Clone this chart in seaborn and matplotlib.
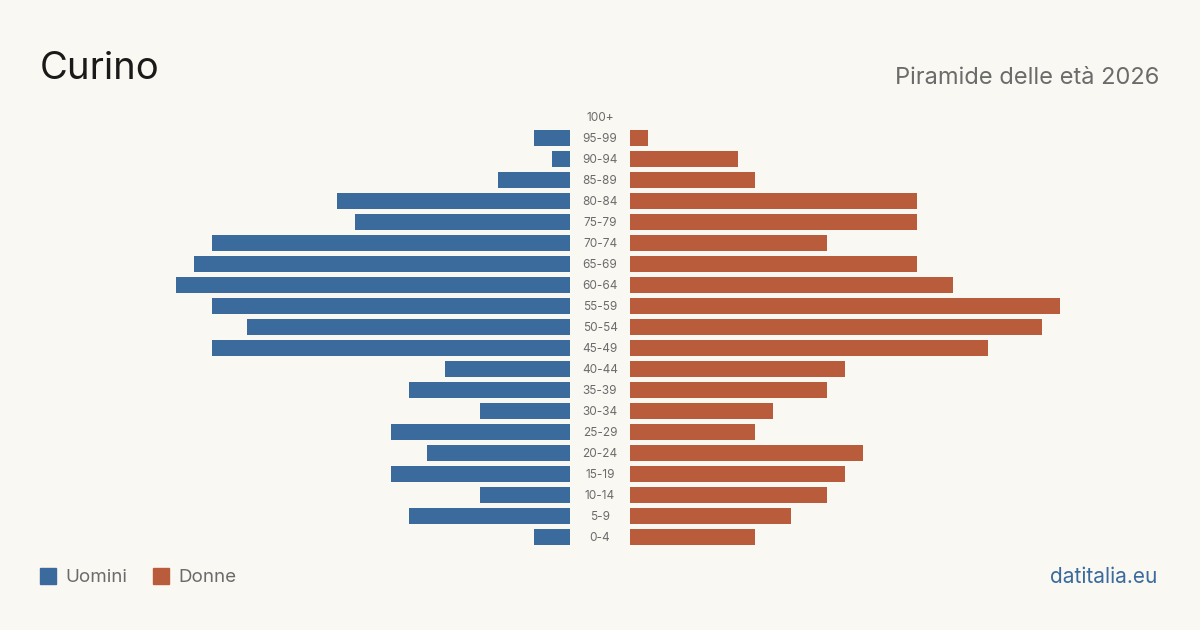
import matplotlib
matplotlib.use("Agg")
import matplotlib.pyplot as plt
import matplotlib.transforms as mtransforms
from matplotlib.patches import Rectangle
import pandas as pd
import seaborn as sns

# age classes, bottom to top
ages = ['0-4', '5-9', '10-14', '15-19', '20-24', '25-29', '30-34', '35-39',
        '40-44', '45-49', '50-54', '55-59', '60-64', '65-69', '70-74',
        '75-79', '80-84', '85-89', '90-94', '95-99', '100+']
uomini = [2, 9, 5, 10, 8, 10, 5, 9, 7, 20, 18, 20, 22, 21, 20, 12, 13, 4, 1, 2, 0]
donne = [7, 9, 11, 12, 13, 7, 8, 11, 12, 20, 23, 24, 18, 16, 11, 16, 16, 7, 6, 1, 0]

title = 'Curino'
subtitle = 'Piramide delle età 2026'
source = 'datitalia.eu'

BLUE = '#3a6b9c'
ORANGE = '#b95c3b'
BG = '#faf8f3'

df = pd.DataFrame({'age': ages, 'Uomini': uomini, 'Donne': donne})
order = ages[::-1]

sns.set_theme(style='white')
plt.rcParams['font.family'] = ['Inter', 'DejaVu Sans']

fig = plt.figure(figsize=(12, 6.3), dpi=100)
fig.patch.set_facecolor(BG)

W, H = 1200, 630
y0 = 547.5
hgt = 441
xmax = 530 / 17.92

ax_l = fig.add_axes([40 / W, 1 - y0 / H, 530 / W, hgt / H])
ax_r = fig.add_axes([630 / W, 1 - y0 / H, 530 / W, hgt / H])

sns.barplot(data=df, x='Uomini', y='age', order=order, color=BLUE,
            saturation=1, width=0.8, linewidth=0, ax=ax_l)
sns.barplot(data=df, x='Donne', y='age', order=order, color=ORANGE,
            saturation=1, width=0.8, linewidth=0, ax=ax_r)

for ax in (ax_l, ax_r):
    ax.set_facecolor(BG)
    ax.set_xlim(0, xmax)
    ax.set_ylim(len(ages) - 0.5, -0.5)
    ax.set_xlabel('')
    ax.set_ylabel('')
    ax.set_xticks([])
    ax.set_yticks([])
    for s in ax.spines.values():
        s.set_visible(False)
ax_l.invert_xaxis()

# age labels in the gap
trans = mtransforms.blended_transform_factory(fig.transFigure, ax_l.transData)
for i, a in enumerate(order):
    ax_l.text(600 / W, i + 0.05, a, transform=trans, ha='center', va='center',
              fontsize=8.5, color='#6b6b6b')

fig.text(40 / W, 1 - 69 / H, title, fontsize=27.5, color='#1a1a1a',
         ha='left', va='center')
fig.text(1159 / W, 1 - 78 / H, subtitle, fontsize=17, color='#6b6b6b',
         ha='right', va='center')
fig.text(1157 / W, 1 - 577 / H, source, fontsize=15, color=BLUE,
         ha='right', va='center')

# legend
for x, lab, col in [(40, 'Uomini', BLUE), (153, 'Donne', ORANGE)]:
    fig.patches.append(Rectangle((x / W, 1 - 584 / H), 16 / W, 16 / H,
                                 transform=fig.transFigure, color=col))
    fig.text((x + 25) / W, 1 - 577.5 / H, lab, fontsize=13.5, color='#6b6b6b',
             ha='left', va='center')

fig.savefig('out.png', dpi=100, facecolor=BG)
